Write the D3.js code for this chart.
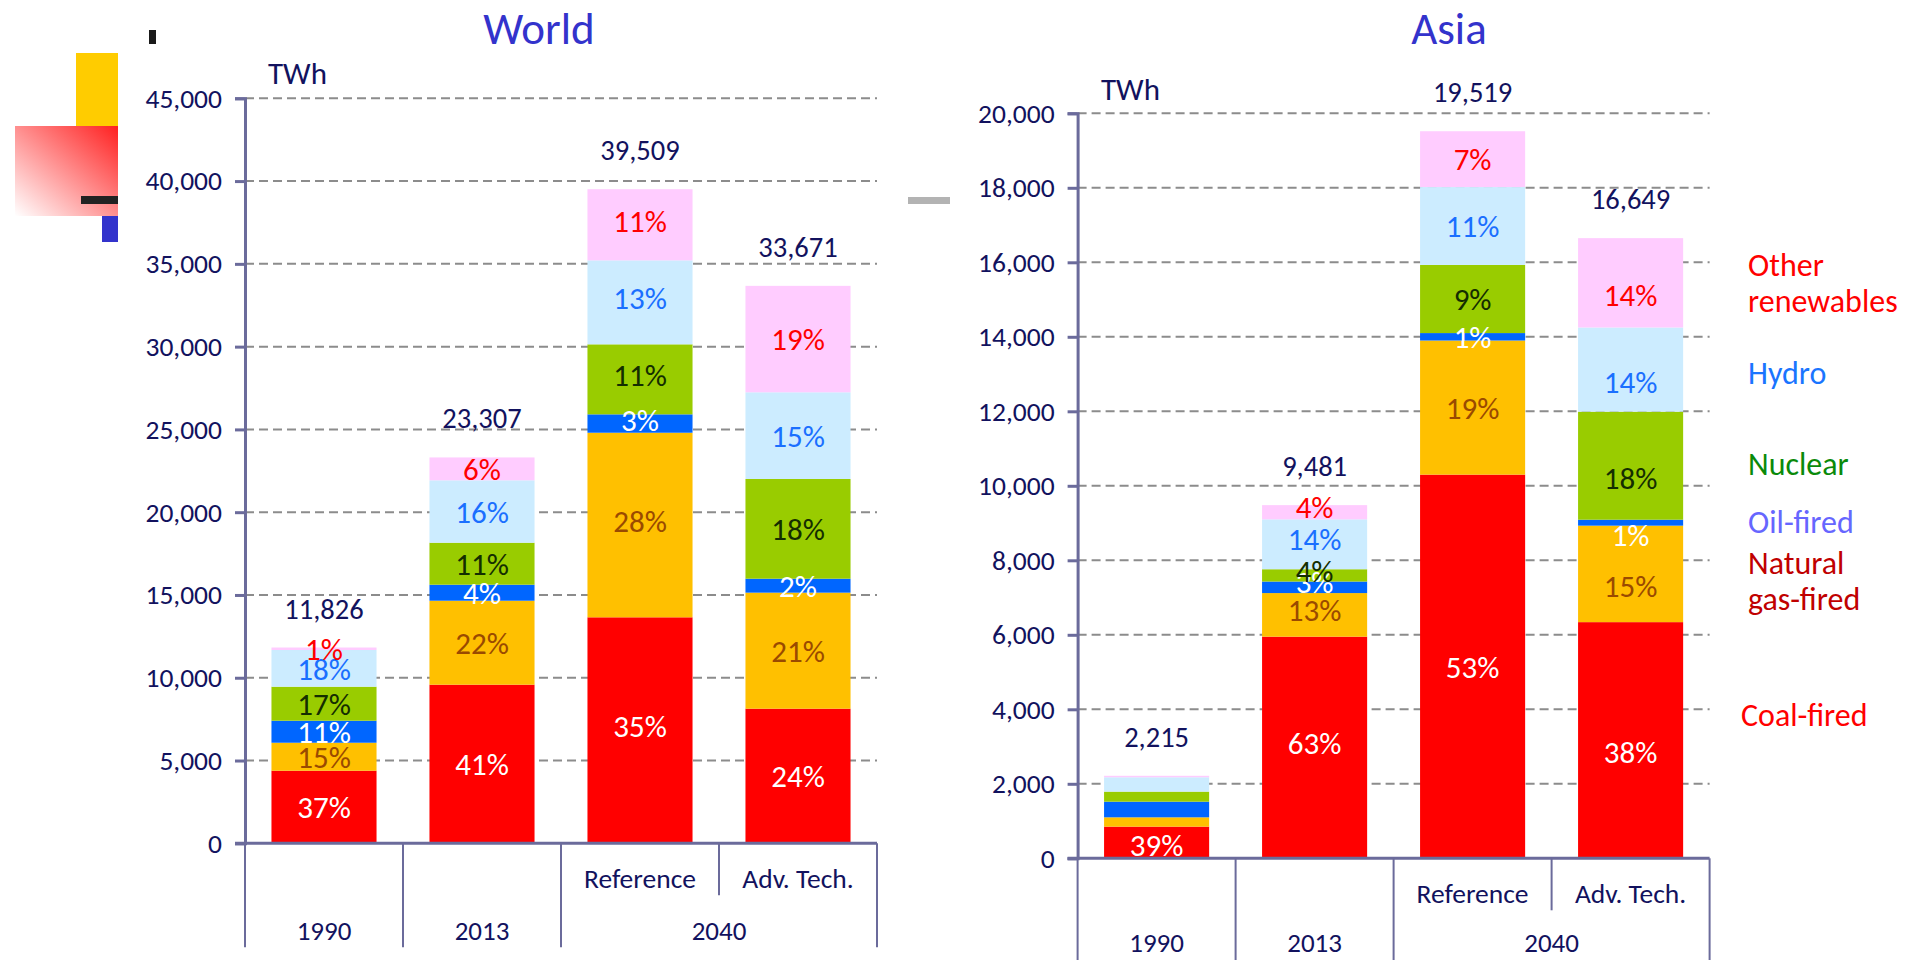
<!DOCTYPE html>
<html><head><meta charset="utf-8">
<script src="https://cdn.jsdelivr.net/npm/d3@7"></script>
<style>
html,body{margin:0;padding:0;background:#fff;}
svg{display:block;font-family:Carlito, Calibri, Lato, sans-serif;}
</style></head><body>
<svg id="chart" width="1915" height="960"></svg>
<script>
// ---------------- DATA ----------------
const categories = ["1990", "2013", "Reference", "Adv. Tech."];
const subLabels = ["", "", "Reference", "Adv. Tech."];
const yearLabels = ["1990", "2013", "2040"];
const yearSpans = [[0, 0], [1, 1], [2, 3]];
const sources = ["Coal-fired", "Natural gas-fired", "Oil-fired", "Nuclear", "Hydro", "Other renewables"];

// World (TWh)
const worldCoal    = [4385, 9581, 13650, 8131];
const worldGas     = [1690, 5072, 11150, 7009];
const worldOil     = [1330, 967, 1110, 843];
const worldNuclear = [2055, 2537, 4229, 6022];
const worldHydro   = [2215, 3769, 5073, 5237];
const worldOther   = [151, 1381, 4297, 6429];
const worldTotals  = [11826, 23307, 39509, 33671];
const worldPctCoal    = ["37%", "41%", "35%", "24%"];
const worldPctGas     = ["15%", "22%", "28%", "21%"];
const worldPctOil     = ["11%", "4%", "3%", "2%"];
const worldPctNuclear = ["17%", "11%", "11%", "18%"];
const worldPctHydro   = ["18%", "16%", "13%", "15%"];
const worldPctOther   = ["1%", "6%", "11%", "19%"];
const worldTicks = [0, 5000, 10000, 15000, 20000, 25000, 30000, 35000, 40000, 45000];

// Asia (TWh)
const asiaCoal    = [850, 5950, 10300, 6340];
const asiaGas     = [250, 1170, 3600, 2590];
const asiaOil     = [420, 310, 200, 160];
const asiaNuclear = [270, 330, 1830, 2900];
const asiaHydro   = [385, 1340, 2090, 2260];
const asiaOther   = [40, 381, 1499, 2399];
const asiaTotals  = [2215, 9481, 19519, 16649];
const asiaPctCoal    = ["39%", "63%", "53%", "38%"];
const asiaPctGas     = ["", "13%", "19%", "15%"];
const asiaPctOil     = ["", "3%", "1%", "1%"];
const asiaPctNuclear = ["", "4%", "9%", "18%"];
const asiaPctHydro   = ["", "14%", "11%", "14%"];
const asiaPctOther   = ["", "4%", "7%", "14%"];
const asiaTicks = [0, 2000, 4000, 6000, 8000, 10000, 12000, 14000, 16000, 18000, 20000];

// ---------------- STYLE ----------------
const keys = ["coal", "gas", "oil", "nuclear", "hydro", "other"];
const fillColor = {coal: "#ff0000", gas: "#ffc000", oil: "#0066ff", nuclear: "#99cc00", hydro: "#ccecff", other: "#ffccff"};
const labelColor = {coal: "#ffffff", gas: "#9a4a00", oil: "#ffffff", nuclear: "#142e00", hydro: "#1a6fff", other: "#ff0000"};
const navy = "#12125e";
const axisColor = "#6b6b9b";

const svg = d3.select("#chart");

function buildRows(arrs) {
  return categories.map((c, i) => {
    const r = {cat: c};
    keys.forEach((k, j) => r[k] = arrs[j][i]);
    return r;
  });
}

function drawPanel(cfg) {
  const g = svg.append("g");
  const rows = buildRows(cfg.values);
  const stack = d3.stack().keys(keys)(rows);

  const x = d3.scaleBand().domain(categories).range([cfg.x0, cfg.x1])
    .paddingInner(0.335).paddingOuter(0.1675);
  const y = d3.scaleLinear().domain([0, cfg.max]).range([cfg.yBottom, cfg.yTop]);

  // gridlines
  g.append("g").selectAll("line").data(cfg.ticks.filter(t => t > 0)).join("line")
    .attr("x1", cfg.x0).attr("x2", cfg.x1)
    .attr("y1", d => y(d)).attr("y2", d => y(d))
    .attr("stroke", "#8c8c8c").attr("stroke-width", 2).attr("stroke-dasharray", "9,5");

  // bars
  const layers = g.append("g").selectAll("g").data(stack).join("g")
    .attr("fill", d => fillColor[d.key]);
  layers.selectAll("rect").data(d => d).join("rect")
    .attr("x", d => x(d.data.cat))
    .attr("width", x.bandwidth())
    .attr("y", d => y(d[1]))
    .attr("height", d => y(d[0]) - y(d[1]));

  // percent labels
  stack.forEach((layer, j) => {
    const labels = cfg.pcts[j];
    g.append("g").selectAll("text").data(layer).join("text")
      .attr("x", d => x(d.data.cat) + x.bandwidth() / 2)
      .attr("y", (d, i) => (y(d[0]) + y(d[1])) / 2 + (cfg.labelShift[i] || 0))
      .attr("dy", "0.36em")
      .attr("text-anchor", "middle")
      .attr("font-size", 31)
      .attr("fill", labelColor[layer.key])
      .text((d, i) => labels[i]);
  });

  // totals
  g.append("g").selectAll("text").data(cfg.totals).join("text")
    .attr("x", (d, i) => x(categories[i]) + x.bandwidth() / 2)
    .attr("y", d => y(d) - 29)
    .attr("text-anchor", "middle")
    .attr("font-size", 28.5)
    .attr("fill", navy)
    .text(d => d3.format(",")(d));

  // y axis
  const yAxis = d3.axisLeft(y).tickValues(cfg.ticks).tickFormat(d3.format(",")).tickSize(10).tickPadding(13);
  const ax = g.append("g").attr("transform", `translate(${cfg.x0},0)`).call(yAxis);
  ax.select(".domain").attr("stroke", axisColor).attr("stroke-width", 3);
  ax.selectAll(".tick line").attr("stroke", axisColor).attr("stroke-width", 3);
  ax.selectAll(".tick text").attr("fill", navy).attr("font-size", 27.5)
    .attr("font-family", "Carlito, Calibri, Lato, sans-serif");

  // baseline
  g.append("line").attr("x1", cfg.x0 - 10).attr("x2", cfg.x1)
    .attr("y1", y(0)).attr("y2", y(0)).attr("stroke", axisColor).attr("stroke-width", 3);

  // category dividers
  const step = x.step();
  const edges = d3.range(categories.length + 1).map(i => cfg.x0 + i * step);
  g.append("g").selectAll("line").data(edges).join("line")
    .attr("x1", d => d).attr("x2", d => d)
    .attr("y1", y(0))
    .attr("y2", (d, i) => i === 3 ? y(0) + 52 : y(0) + 104)
    .attr("stroke", axisColor).attr("stroke-width", 2);

  // sub labels
  g.append("g").selectAll("text").data(subLabels).join("text")
    .attr("x", (d, i) => x(categories[i]) + x.bandwidth() / 2)
    .attr("y", y(0) + 45)
    .attr("text-anchor", "middle").attr("font-size", 27.5).attr("fill", navy)
    .text(d => d);

  // year labels
  g.append("g").selectAll("text").data(yearLabels).join("text")
    .attr("x", (d, i) => (edges[yearSpans[i][0]] + edges[yearSpans[i][1] + 1]) / 2)
    .attr("y", Math.min(y(0) + 97, 952))
    .attr("text-anchor", "middle").attr("font-size", 27).attr("fill", navy)
    .text(d => d);

  // unit
  g.append("text").attr("x", cfg.twhX).attr("y", cfg.twhY)
    .attr("font-size", 31).attr("fill", navy).text("TWh");

  // title
  g.append("text").attr("x", cfg.titleX).attr("y", 44)
    .attr("text-anchor", "middle").attr("font-size", 45).attr("fill", "#3333cc").text(cfg.title);
}

drawPanel({
  title: "World", titleX: 539, twhX: 268, twhY: 84,
  x0: 245, x1: 877, yTop: 98.3, yBottom: 843.3, max: 45000, ticks: worldTicks,
  values: [worldCoal, worldGas, worldOil, worldNuclear, worldHydro, worldOther],
  pcts: [worldPctCoal, worldPctGas, worldPctOil, worldPctNuclear, worldPctHydro, worldPctOther],
  totals: worldTotals, labelShift: [0, 0, -4, 0]
});
drawPanel({
  title: "Asia", titleX: 1449, twhX: 1101, twhY: 100,
  x0: 1077.6, x1: 1709.6, yTop: 113.3, yBottom: 858.3, max: 20000, ticks: asiaTicks,
  values: [asiaCoal, asiaGas, asiaOil, asiaNuclear, asiaHydro, asiaOther],
  pcts: [asiaPctCoal, asiaPctGas, asiaPctOil, asiaPctNuclear, asiaPctHydro, asiaPctOther],
  totals: asiaTotals, labelShift: [2, -5, 0, 12]
});

// legend (right side)
const legendLines = [
  {lines: ["Other", "renewables"], color: "#ff0000", x: 1748, y: 276},
  {lines: ["Hydro"], color: "#1a75ff", x: 1748, y: 384},
  {lines: ["Nuclear"], color: "#0a8a0a", x: 1748, y: 475},
  {lines: ["Oil-fired"], color: "#6666ff", x: 1748, y: 533},
  {lines: ["Natural", "gas-fired"], color: "#c00000", x: 1748, y: 574},
  {lines: ["Coal-fired"], color: "#ff0000", x: 1741, y: 726}
];
const lg = svg.append("g");
legendLines.forEach(item => {
  const t = lg.append("text").attr("x", item.x).attr("y", item.y)
    .attr("font-size", 32).attr("fill", item.color);
  item.lines.forEach((l, i) => t.append("tspan").attr("x", item.x).attr("dy", i === 0 ? 0 : 36).text(l));
});

// decorative slide elements
const defs = svg.append("defs");
const grad = defs.append("linearGradient").attr("id", "redfade")
  .attr("x1", "100%").attr("y1", "0%").attr("x2", "0%").attr("y2", "100%");
grad.append("stop").attr("offset", "0%").attr("stop-color", "#ff2020");
grad.append("stop").attr("offset", "100%").attr("stop-color", "#ffffff");
const deco = svg.append("g");
deco.append("rect").attr("x", 76).attr("y", 53).attr("width", 42).attr("height", 73).attr("fill", "#ffcc00");
deco.append("rect").attr("x", 15).attr("y", 126).attr("width", 103).attr("height", 90).attr("fill", "url(#redfade)");
deco.append("rect").attr("x", 81).attr("y", 196).attr("width", 37).attr("height", 8).attr("fill", "#222222");
deco.append("rect").attr("x", 102).attr("y", 216).attr("width", 16).attr("height", 26).attr("fill", "#3333cc");
deco.append("rect").attr("x", 149).attr("y", 30).attr("width", 7).attr("height", 14).attr("fill", "#1a1a1a");
deco.append("rect").attr("x", 908).attr("y", 197).attr("width", 42).attr("height", 7).attr("fill", "#b3b3b3");
</script>
</body></html>
